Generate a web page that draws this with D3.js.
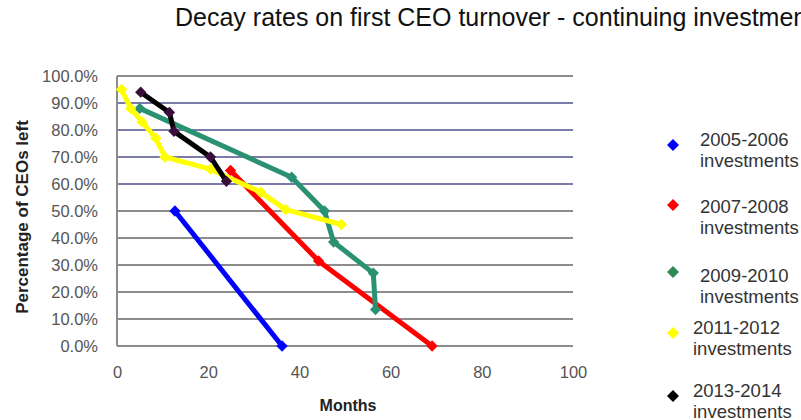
<!DOCTYPE html>
<html>
<head>
<meta charset="utf-8">
<title>Decay rates</title>
<script src="https://cdn.jsdelivr.net/npm/d3@7"></script>
<style>
  body { margin: 0; background: #fff; }
  svg { display: block; overflow: hidden; }
</style>
</head>
<body>
<script>
// series labels and colours
var seriesNames = ["2005-2006", "2007-2008", "2009-2010", "2011-2012", "2013-2014"];
var lineColors = ["#0000ff", "#ff0000", "#2a9272", "#ffff00", "#000000"];
var markerColors = ["#0000ff", "#ff0000", "#2a9272", "#ffff00", "#3a0d3a"];

// months since investment / percentage of CEOs left
var months0506 = [12.7, 36.2];
var pct0506 = [50, 0];
var months0708 = [24.9, 44.2, 69.1];
var pct0708 = [65, 31.5, 0];
var months0910 = [5, 38.3, 45.5, 47.5, 56.2, 56.7];
var pct0910 = [88, 62.5, 50, 38.5, 27, 13.5];
var months1112 = [1, 3, 5.5, 8.5, 10.5, 20.5, 31.5, 37, 49.2];
var pct1112 = [95, 88, 83, 77, 70, 65.5, 57, 50.5, 45];
var months1314 = [5.2, 11.5, 12.5, 20.5, 24];
var pct1314 = [94, 86.5, 79.5, 70, 61];

var xTicks = [0, 20, 40, 60, 80, 100];
var yTicks = [0, 10, 20, 30, 40, 50, 60, 70, 80, 90, 100];
var blueGrid = [60, 70, 80, 90];

var allMonths = [months0506, months0708, months0910, months1112, months1314];
var allPct = [pct0506, pct0708, pct0910, pct1112, pct1314];

var W = 801, H = 420;
var plotLeft = 117, plotRight = 573, plotTop = 76, plotBottom = 346;

var svg = d3.select("body").append("svg")
  .attr("width", W).attr("height", H)
  .style("font-family", "'Liberation Sans', Arial, sans-serif");

svg.append("rect").attr("width", W).attr("height", H).attr("fill", "#fff");

var x = d3.scaleLinear().domain([0, 100]).range([plotLeft, plotRight]);
var y = d3.scaleLinear().domain([0, 100]).range([plotBottom, plotTop]);

// title (runs off the right edge like the original)
svg.append("text")
  .attr("x", 175).attr("y", 26)
  .attr("font-size", 25)
  .attr("fill", "#111")
  .text("Decay rates on first CEO turnover - continuing investments");

// gridlines
svg.append("g").selectAll("line")
  .data(yTicks)
  .join("line")
  .attr("x1", plotLeft).attr("x2", plotRight)
  .attr("y1", function (d) { return y(d); })
  .attr("y2", function (d) { return y(d); })
  .attr("stroke", function (d) { return blueGrid.indexOf(d) >= 0 ? "#7b7bab" : "#8c8c8c"; })
  .attr("stroke-width", 2);

// left axis line
svg.append("line")
  .attr("x1", plotLeft).attr("x2", plotLeft)
  .attr("y1", plotTop).attr("y2", plotBottom)
  .attr("stroke", "#8c8c8c").attr("stroke-width", 2);

// y axis labels
var yAxis = d3.axisLeft(y).tickValues(yTicks)
  .tickFormat(function (d) { return d.toFixed(1) + "%"; })
  .tickSize(0).tickPadding(19);
var gy = svg.append("g").attr("transform", "translate(" + plotLeft + ",0)").call(yAxis);
gy.select(".domain").remove();
gy.selectAll("text")
  .attr("font-size", 16.5).attr("fill", "#555")
  .attr("font-family", "'Liberation Sans', Arial, sans-serif");

// x axis labels
var xAxis = d3.axisBottom(x).tickValues(xTicks).tickSize(0).tickPadding(20);
var gx = svg.append("g").attr("transform", "translate(0," + plotBottom + ")").call(xAxis);
gx.select(".domain").remove();
gx.selectAll("text")
  .attr("font-size", 16.5).attr("fill", "#555")
  .attr("font-family", "'Liberation Sans', Arial, sans-serif");

// axis titles
svg.append("text")
  .attr("x", 348).attr("y", 411)
  .attr("text-anchor", "middle")
  .attr("font-size", 16).attr("font-weight", "bold")
  .attr("fill", "#222")
  .text("Months");

svg.append("text")
  .attr("transform", "translate(28,217) rotate(-90)")
  .attr("text-anchor", "middle")
  .attr("font-size", 17).attr("font-weight", "bold")
  .attr("fill", "#222")
  .text("Percentage of CEOs left");

// series lines + markers
var line = d3.line()
  .x(function (d) { return x(d[0]); })
  .y(function (d) { return y(d[1]); });

// excel style diamond = square turned 45 degrees
var diamond = d3.symbol().type(d3.symbolSquare).size(64);

for (var i = 0; i < seriesNames.length; i++) {
  var pts = allMonths[i].map(function (m, j) { return [m, allPct[i][j]]; });
  var g = svg.append("g");
  g.append("path")
    .datum(pts)
    .attr("d", line)
    .attr("fill", "none")
    .attr("stroke", lineColors[i])
    .attr("stroke-width", 5)
    .attr("stroke-linejoin", "round");
  g.selectAll("path.m")
    .data(pts)
    .join("path")
    .attr("class", "m")
    .attr("d", diamond)
    .attr("transform", function (d) { return "translate(" + x(d[0]) + "," + y(d[1]) + ") rotate(45)"; })
    .attr("fill", markerColors[i]);
}

// legend
var legendMarkY = [145, 205, 272, 333, 396];
var legendTextY = [139, 206, 275, 327, 390];
var legendTextX = [700, 700, 700, 693, 693];
var lg = svg.append("g");
for (var k = 0; k < seriesNames.length; k++) {
  lg.append("path")
    .attr("d", d3.symbol().type(d3.symbolSquare).size(72))
    .attr("transform", "translate(673," + legendMarkY[k] + ") rotate(45)")
    .attr("fill", k == 4 ? "#000" : (k == 2 ? "#2e8b57" : markerColors[k]));
  var t = lg.append("text")
    .attr("x", legendTextX[k]).attr("y", legendTextY[k] + 6.5)
    .attr("font-size", 18.5).attr("fill", "#333");
  t.append("tspan").attr("x", legendTextX[k]).text(seriesNames[k]);
  t.append("tspan").attr("x", legendTextX[k]).attr("dy", 21).text("investments");
}
</script>
</body>
</html>
